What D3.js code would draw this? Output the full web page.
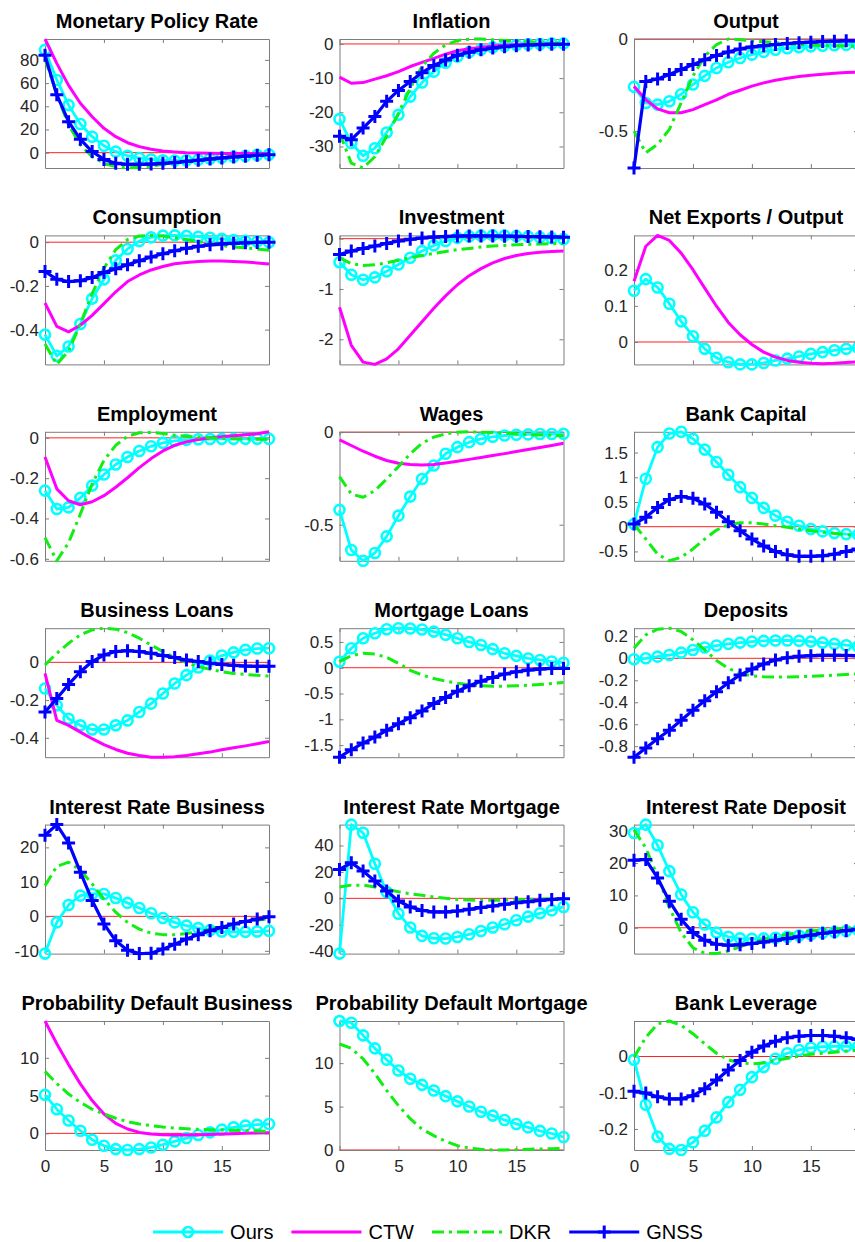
<!DOCTYPE html>
<html>
<head>
<meta charset="utf-8">
<script src="https://cdn.jsdelivr.net/npm/d3@7"></script>
<style>
  body { margin: 0; background: #fff; }
  svg { display: block; font-family: "Liberation Sans", Arial, Helvetica, sans-serif; }
</style>
</head>
<body>
<svg id="chart" width="855" height="1242"></svg>
<script>
// quarters after the shock
const horizon = [0, 1, 2, 3, 4, 5, 6, 7, 8, 9, 10, 11, 12, 13, 14, 15, 16, 17, 18, 19]

const panelTitles = [
  "Monetary Policy Rate", "Inflation", "Output",
  "Consumption", "Investment", "Net Exports / Output",
  "Employment", "Wages", "Bank Capital",
  "Business Loans", "Mortgage Loans", "Deposits",
  "Interest Rate Business", "Interest Rate Mortgage", "Interest Rate Deposit",
  "Probability Default Business", "Probability Default Mortgage", "Bank Leverage",
]

const yTickValues = [
  [0, 20, 40, 60, 80], [-30, -20, -10, 0], [-0.5, 0],
  [-0.4, -0.2, 0], [-2, -1, 0], [0, 0.1, 0.2],
  [-0.6, -0.4, -0.2, 0], [-0.5, 0], [-0.5, 0, 0.5, 1, 1.5],
  [-0.4, -0.2, 0], [-1.5, -1, -0.5, 0, 0.5], [-0.8, -0.6, -0.4, -0.2, 0, 0.2],
  [-10, 0, 10, 20], [-40, -20, 0, 20, 40], [0, 10, 20, 30],
  [0, 5, 10], [0, 5, 10], [-0.2, -0.1, 0],
]

const xTickValues = [0, 5, 10, 15]

const seriesNames = ["Ours", "CTW", "DKR", "GNSS"]

// impulse responses, one row per panel (null = model has no such variable)
const oursIrf = [
  [88.6, 62.7, 41, 24.7, 13.8, 6, 0.9, -2.6, -4.6, -5.8, -6.5, -6.8, -6.5, -6, -5, -4.2, -3.5, -2.8, -2, -1.5],
  [-22, -29, -32.7, -30.5, -25.9, -20.7, -15.4, -11.3, -8.1, -5.5, -3.7, -2.4, -1.6, -1, -0.6, -0.3, -0.1, 0, 0.1, 0.1],
  [-0.26, -0.347, -0.356, -0.338, -0.3, -0.247, -0.2, -0.157, -0.126, -0.103, -0.085, -0.07, -0.058, -0.05, -0.045, -0.04, -0.037, -0.034, -0.032, -0.03],
  [-0.423, -0.52, -0.477, -0.374, -0.258, -0.17, -0.083, -0.031, 0.005, 0.022, 0.03, 0.031, 0.029, 0.025, 0.02, 0.015, 0.01, 0.006, 0.003, 0],
  [-0.468, -0.716, -0.816, -0.77, -0.65, -0.515, -0.38, -0.247, -0.134, -0.047, 0.015, 0.045, 0.06, 0.065, 0.06, 0.05, 0.04, 0.025, 0.01, -0.01],
  [0.142, 0.174, 0.151, 0.106, 0.057, 0.016, -0.019, -0.044, -0.056, -0.062, -0.062, -0.058, -0.051, -0.046, -0.04, -0.033, -0.028, -0.023, -0.019, -0.016],
  [-0.262, -0.353, -0.345, -0.298, -0.237, -0.182, -0.132, -0.095, -0.065, -0.042, -0.025, -0.015, -0.01, -0.007, -0.006, -0.005, -0.005, -0.005, -0.005, -0.005],
  [-0.42, -0.637, -0.695, -0.653, -0.563, -0.451, -0.348, -0.253, -0.18, -0.117, -0.081, -0.054, -0.036, -0.025, -0.018, -0.014, -0.012, -0.01, -0.01, -0.009],
  [0.054, 0.97, 1.61, 1.885, 1.92, 1.78, 1.56, 1.31, 1.05, 0.8, 0.583, 0.38, 0.224, 0.1, 0.02, -0.047, -0.095, -0.13, -0.15, -0.16],
  [-0.139, -0.228, -0.299, -0.334, -0.356, -0.356, -0.334, -0.308, -0.263, -0.219, -0.165, -0.112, -0.068, -0.027, 0.009, 0.036, 0.053, 0.066, 0.073, 0.075],
  [0.117, 0.377, 0.571, 0.669, 0.747, 0.766, 0.76, 0.74, 0.7, 0.64, 0.57, 0.5, 0.44, 0.36, 0.28, 0.23, 0.18, 0.15, 0.12, 0.097],
  [-0.009, 0, 0.015, 0.03, 0.052, 0.076, 0.098, 0.116, 0.131, 0.143, 0.152, 0.159, 0.162, 0.162, 0.16, 0.152, 0.143, 0.131, 0.119, 0.107],
  [-10.8, -1.75, 3.3, 6, 6.5, 6.5, 5.3, 3.9, 2.4, 0.9, -0.5, -1.75, -2.7, -3.4, -4, -4.4, -4.5, -4.5, -4.4, -4.2],
  [-41.8, 55.8, 49.6, 26.2, 4.8, -11.6, -22, -28.4, -30.2, -30.4, -29.2, -27.2, -24.7, -22.1, -19.6, -16.6, -13.8, -11.3, -9.1, -6.5],
  [29.3, 31.9, 25.5, 17.5, 10.3, 4.8, 1, -1.5, -2.8, -3.3, -3.4, -3.3, -3.1, -2.8, -2.4, -2, -1.6, -1.3, -1, -0.7],
  [5.1, 3.2, 1.7, 0.35, -0.84, -1.64, -2.08, -2.2, -2.08, -1.86, -1.5, -1.06, -0.62, -0.22, 0.13, 0.49, 0.8, 1.02, 1.15, 1.24],
  [14.85, 14.65, 13.2, 11.7, 10.4, 9.15, 8.2, 7.5, 6.85, 6.2, 5.6, 5, 4.4, 3.96, 3.46, 3, 2.6, 2.2, 1.9, 1.5],
  [-0.009, -0.133, -0.221, -0.255, -0.258, -0.237, -0.205, -0.168, -0.126, -0.092, -0.057, -0.029, -0.006, 0.009, 0.018, 0.024, 0.027, 0.028, 0.028, 0.027],
]

const ctwIrf = [
  [98, 77, 58, 42.6, 31, 21, 13.8, 8.6, 5.2, 2.9, 1.4, 0.6, 0, -0.3, -0.5, -0.6, -0.7, -0.7, -0.7, -0.7],
  [-9.7, -11.5, -11.3, -10.3, -9.3, -8.1, -6.6, -5.4, -4.2, -3, -2, -1.4, -1, -0.6, -0.4, -0.2, -0.1, 0, 0, 0],
  [-0.256, -0.33, -0.379, -0.4, -0.4, -0.383, -0.356, -0.33, -0.3, -0.278, -0.256, -0.238, -0.224, -0.213, -0.204, -0.197, -0.191, -0.186, -0.182, -0.179],
  [-0.278, -0.385, -0.41, -0.38, -0.335, -0.281, -0.227, -0.18, -0.15, -0.127, -0.111, -0.099, -0.093, -0.088, -0.086, -0.086, -0.088, -0.091, -0.095, -0.1],
  [-1.365, -2.12, -2.455, -2.5, -2.39, -2.19, -1.92, -1.65, -1.385, -1.137, -0.916, -0.736, -0.595, -0.48, -0.395, -0.334, -0.294, -0.268, -0.254, -0.247],
  [0.168, 0.265, 0.295, 0.281, 0.246, 0.2, 0.149, 0.099, 0.054, 0.02, -0.007, -0.028, -0.042, -0.051, -0.056, -0.059, -0.06, -0.059, -0.057, -0.055],
  [-0.095, -0.253, -0.312, -0.332, -0.317, -0.287, -0.245, -0.198, -0.148, -0.103, -0.065, -0.037, -0.02, -0.008, 0, 0.005, 0.01, 0.015, 0.02, 0.03],
  [-0.042, -0.072, -0.103, -0.13, -0.153, -0.168, -0.175, -0.177, -0.175, -0.166, -0.157, -0.147, -0.137, -0.126, -0.116, -0.105, -0.094, -0.083, -0.072, -0.06],
  null,
  [-0.059, -0.308, -0.334, -0.37, -0.405, -0.436, -0.462, -0.482, -0.494, -0.503, -0.503, -0.5, -0.494, -0.485, -0.476, -0.464, -0.453, -0.443, -0.432, -0.42],
  null, null, null, null, null,
  [14.87, 11.86, 9.1, 6.55, 4.34, 2.57, 1.33, 0.58, 0.13, -0.09, -0.18, -0.22, -0.22, -0.18, -0.14, -0.09, -0.05, 0, 0.04, 0.09],
  null, null,
]

const dkrIrf = [
  [81, 50, 24, 6.6, -3.5, -9.2, -12, -13.2, -12.5, -11.5, -10, -8.7, -7.3, -6, -5, -4, -3.2, -2.5, -2, -1.5],
  [-26, -34.9, -36.3, -33, -27, -20.3, -13, -6.6, -2.7, -0.3, 1, 1.4, 1.45, 1.2, 1, 0.8, 0.6, 0.4, 0.3, 0.2],
  [-0.5, -0.617, -0.572, -0.49, -0.347, -0.2, -0.094, -0.03, 0, -0.004, -0.01, -0.015, -0.02, -0.025, -0.03, -0.033, -0.035, -0.037, -0.038, -0.04],
  [-0.466, -0.559, -0.497, -0.374, -0.235, -0.119, -0.034, 0.012, 0.028, 0.031, 0.028, 0.02, 0.012, 0.002, -0.006, -0.015, -0.022, -0.026, -0.031, -0.037],
  [-0.38, -0.495, -0.535, -0.52, -0.48, -0.43, -0.38, -0.334, -0.294, -0.254, -0.22, -0.194, -0.167, -0.147, -0.134, -0.12, -0.114, -0.107, -0.1, -0.094],
  null,
  [-0.495, -0.61, -0.52, -0.378, -0.228, -0.112, -0.037, 0.008, 0.025, 0.027, 0.022, 0.013, 0.008, 0.003, 0, -0.003, -0.005, -0.006, -0.007, -0.007],
  [-0.24, -0.334, -0.352, -0.316, -0.253, -0.186, -0.117, -0.06, -0.027, -0.009, 0, 0.002, 0, -0.002, -0.005, -0.009, -0.013, -0.015, -0.017, -0.02],
  [0.05, -0.25, -0.556, -0.69, -0.62, -0.45, -0.25, -0.068, 0.04, 0.08, 0.08, 0.054, 0.02, -0.014, -0.047, -0.08, -0.11, -0.136, -0.16, -0.19],
  [-0.014, 0.048, 0.101, 0.146, 0.172, 0.181, 0.176, 0.158, 0.128, 0.092, 0.057, 0.025, -0.002, -0.023, -0.037, -0.05, -0.059, -0.064, -0.069, -0.073],
  [0.117, 0.234, 0.279, 0.266, 0.2, 0.084, -0.05, -0.14, -0.21, -0.26, -0.3, -0.33, -0.35, -0.357, -0.357, -0.35, -0.34, -0.325, -0.305, -0.286],
  [0.091, 0.213, 0.265, 0.274, 0.244, 0.168, 0.076, -0.021, -0.091, -0.137, -0.159, -0.168, -0.171, -0.17, -0.168, -0.163, -0.159, -0.153, -0.147, -0.14],
  [8.9, 14.5, 15.7, 13.3, 9.4, 5, 1.2, -1.75, -3.7, -4.9, -5.3, -5.3, -5, -4.4, -3.7, -2.9, -2.2, -1.6, -1.1, -0.6],
  [8.6, 10, 10, 8.6, 6.8, 5, 3.5, 2.3, 1, 0, -0.8, -1.3, -1.5, -1.5, -1.3, -1, -0.8, -0.5, -0.3, 0],
  [30.3, 24.7, 15.9, 6.2, -1.5, -6.2, -7.9, -8, -7.2, -5.9, -4.6, -3.6, -2.8, -2.1, -1.5, -1, -0.7, -0.4, -0.2, 0],
  [8.2, 6.6, 5.2, 4.1, 3.2, 2.57, 2, 1.55, 1.24, 1.02, 0.84, 0.7, 0.62, 0.53, 0.48, 0.44, 0.4, 0.35, 0.31, 0.27],
  [12.2, 11.7, 10.5, 8.8, 6.85, 5.1, 3.6, 2.4, 1.65, 1, 0.5, 0.23, 0.08, 0, 0, 0.04, 0.08, 0.12, 0.15, 0.19],
  [-0.002, 0.053, 0.09, 0.098, 0.086, 0.063, 0.035, 0.009, -0.009, -0.018, -0.02, -0.018, -0.011, -0.005, 0.001, 0.006, 0.009, 0.012, 0.015, 0.017],
]

const gnssIrf = [
  [84, 50, 26.7, 11.5, 1, -5.8, -9.2, -10, -10, -9.8, -9.2, -8.5, -7.5, -6.5, -5.5, -4.5, -3.7, -3, -2.2, -1.7],
  [-27, -28, -24.6, -21.2, -16.8, -13.6, -11, -8.4, -6.3, -4.7, -3.3, -2.4, -1.7, -1.2, -0.8, -0.5, -0.3, -0.2, -0.1, -0.1],
  [-0.7, -0.23, -0.217, -0.193, -0.166, -0.139, -0.112, -0.09, -0.07, -0.054, -0.043, -0.036, -0.03, -0.025, -0.02, -0.017, -0.014, -0.012, -0.01, -0.01],
  [-0.134, -0.17, -0.18, -0.176, -0.162, -0.139, -0.122, -0.103, -0.085, -0.068, -0.053, -0.039, -0.028, -0.019, -0.012, -0.008, -0.005, -0.003, -0.001, 0],
  [-0.314, -0.247, -0.194, -0.147, -0.094, -0.047, -0.013, 0.013, 0.033, 0.045, 0.052, 0.055, 0.055, 0.053, 0.05, 0.047, 0.043, 0.04, 0.035, 0.03],
  null, null, null,
  [0.054, 0.19, 0.39, 0.55, 0.61, 0.576, 0.46, 0.29, 0.1, -0.08, -0.25, -0.39, -0.5, -0.57, -0.6, -0.6, -0.59, -0.556, -0.5, -0.45],
  [-0.263, -0.192, -0.117, -0.05, 0.004, 0.039, 0.057, 0.062, 0.057, 0.048, 0.036, 0.025, 0.012, 0.004, -0.005, -0.011, -0.016, -0.02, -0.021, -0.021],
  [-1.734, -1.59, -1.46, -1.344, -1.214, -1.084, -0.968, -0.838, -0.695, -0.578, -0.455, -0.35, -0.26, -0.188, -0.123, -0.078, -0.045, -0.026, -0.013, -0.013],
  [-0.9, -0.817, -0.732, -0.655, -0.564, -0.473, -0.387, -0.305, -0.223, -0.152, -0.098, -0.052, -0.015, 0.006, 0.018, 0.024, 0.027, 0.027, 0.026, 0.024],
  [23.5, 26.6, 21.3, 12.8, 4.6, -2.2, -7.1, -9.8, -10.8, -10.7, -9.5, -8.1, -6.6, -5.3, -4.2, -3.2, -2.2, -1.5, -0.8, -0.1],
  [21.9, 26.9, 20.6, 13.1, 5.5, -2, -6.5, -9.1, -10.3, -10.3, -9.6, -8.3, -7, -5.8, -4.5, -3.3, -2.5, -1.5, -0.8, -0.3],
  [20.9, 21.1, 15.4, 8.2, 2.6, -1.5, -3.9, -5.1, -5.4, -5.3, -4.9, -4.4, -3.9, -3.3, -2.8, -2.3, -1.7, -1.3, -0.9, -0.5],
  null, null,
  [-0.096, -0.101, -0.111, -0.117, -0.117, -0.108, -0.089, -0.065, -0.037, -0.011, 0.012, 0.029, 0.042, 0.052, 0.056, 0.058, 0.058, 0.056, 0.052, 0.047],
]

// line styles, like the matlab plot call
const seriesStyles = [
  { name: seriesNames[0], data: oursIrf, color: "#00ffff", width: 2.8, dash: null, marker: "circle" },
  { name: seriesNames[1], data: ctwIrf, color: "#ff00ff", width: 3, dash: null, marker: null },
  { name: seriesNames[2], data: dkrIrf, color: "#11ee11", width: 3, dash: "12,5,3,5", marker: null },
  { name: seriesNames[3], data: gnssIrf, color: "#0000ff", width: 3.2, dash: null, marker: "plus" },
]

const svg = d3.select("#chart")
svg.append("rect").attr("width", 855).attr("height", 1242).attr("fill", "#fff")

const colLeft = [45, 339.5, 634]
const rowTop = 39
const rowStep = 196.4
const axW = 224
const axH = 129
const boxColor = "#7d7d7d"
const labelColor = "#262626"
const tickFont = 17

function drawMarkers(g, pts, s) {
  if (s.marker === "circle") {
    g.selectAll(null).data(pts).enter().append("circle")
      .attr("cx", (d) => d[0]).attr("cy", (d) => d[1]).attr("r", 5)
      .attr("fill", "none").attr("stroke", s.color).attr("stroke-width", 2.6)
  } else if (s.marker === "plus") {
    g.selectAll(null).data(pts).enter().append("path")
      .attr("d", (d) => `M${d[0] - 6.5},${d[1]}H${d[0] + 6.5}M${d[0]},${d[1] - 6.5}V${d[1] + 6.5}`)
      .attr("stroke", s.color).attr("stroke-width", 3)
  }
}

function styleAxis(a) {
  a.attr("font-size", null).attr("font-family", null)
  a.select(".domain").attr("stroke", boxColor).attr("stroke-width", 1)
  a.selectAll(".tick line").attr("stroke", boxColor).attr("stroke-width", 1)
  a.selectAll(".tick text").attr("fill", labelColor).style("font-size", `${tickFont}px`)
}

panelTitles.forEach((title, k) => {
  const r = Math.floor(k / 3)
  const c = k % 3
  const g = svg.append("g").attr("transform", `translate(${colLeft[c]},${rowTop + r * rowStep})`)

  const series = seriesStyles.filter((s) => s.data[k])
  const allValues = series.flatMap((s) => s.data[k])

  // matlab "axis tight"
  const x = d3.scaleLinear().domain(d3.extent(horizon)).range([0, axW])
  const y = d3.scaleLinear().domain(d3.extent(allValues)).range([axH, 0])

  // zero reference line
  g.append("line")
    .attr("x1", 0).attr("x2", axW)
    .attr("y1", y(0)).attr("y2", y(0))
    .attr("stroke", "#ff2020").attr("stroke-width", 1)

  // box with inward ticks on all four sides
  const fmt = (d) => String(d)
  g.append("g").call(d3.axisLeft(y).tickValues(yTickValues[k]).tickSize(-4).tickSizeOuter(0).tickPadding(6).tickFormat(fmt)).call(styleAxis)
  g.append("g").attr("transform", `translate(${axW},0)`)
    .call(d3.axisRight(y).tickValues(yTickValues[k]).tickSize(-4).tickSizeOuter(0).tickFormat("")).call(styleAxis)
  g.append("g")
    .call(d3.axisTop(x).tickValues(xTickValues).tickSize(-4).tickSizeOuter(0).tickFormat("")).call(styleAxis)
  const bottom = d3.axisBottom(x).tickValues(xTickValues).tickSize(-4).tickSizeOuter(0).tickPadding(10)
  if (r < 5) bottom.tickFormat("")
  g.append("g").attr("transform", `translate(0,${axH})`).call(bottom).call(styleAxis)

  const line = d3.line().x((d, i) => x(horizon[i])).y((d) => y(d))
  series.forEach((s) => {
    g.append("path")
      .attr("d", line(s.data[k]))
      .attr("fill", "none")
      .attr("stroke", s.color)
      .attr("stroke-width", s.width)
      .attr("stroke-dasharray", s.dash)
      .attr("stroke-linejoin", "round")
    const pts = s.data[k].map((v, i) => [x(horizon[i]), y(v)])
    drawMarkers(g.append("g"), pts, s)
  })

  g.append("text")
    .attr("x", axW / 2).attr("y", -11)
    .attr("text-anchor", "middle")
    .attr("font-weight", "bold")
    .attr("font-size", 20)
    .attr("fill", "#000")
    .text(title)
})

// legend across the bottom
const legend = svg.append("g")
const legendY = 1232
const lineLen = 70
let cursor = 0
seriesStyles.forEach((s) => {
  const item = legend.append("g").attr("transform", `translate(${cursor},0)`)
  item.append("line")
    .attr("x1", 0).attr("x2", lineLen).attr("y1", 0).attr("y2", 0)
    .attr("stroke", s.color).attr("stroke-width", s.width)
    .attr("stroke-dasharray", s.dash)
  drawMarkers(item, [[lineLen / 2, 0]], s)
  const t = item.append("text")
    .attr("x", lineLen + 7).attr("dy", "0.35em")
    .attr("font-size", 20).attr("fill", "#000")
    .text(s.name)
  cursor += lineLen + 7 + t.node().getComputedTextLength() + 18
})
cursor -= 18
legend.attr("transform", `translate(${428 - cursor / 2},${legendY})`)
</script>
</body>
</html>
